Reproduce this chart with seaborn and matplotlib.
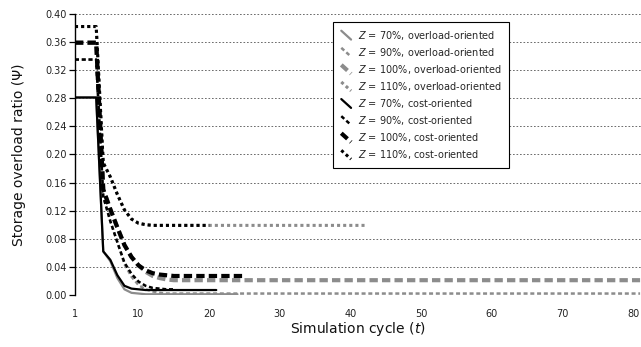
import matplotlib
matplotlib.use("Agg")
import matplotlib.pyplot as plt
from matplotlib.lines import Line2D
from matplotlib.legend_handler import HandlerLine2D
import numpy as np
import pandas as pd
import seaborn as sns

# ---- data -------------------------------------------------------------
# cost-oriented runs (black)
cyc_cost_70 = list(range(1, 22))
psi_cost_70 = [0.281, 0.281, 0.281, 0.281, 0.062, 0.050, 0.028, 0.013, 0.009,
               0.008, 0.007, 0.007, 0.007, 0.007, 0.007, 0.007, 0.007, 0.007,
               0.007, 0.007, 0.007]
cyc_cost_90 = list(range(1, 16))
psi_cost_90 = [0.335, 0.335, 0.335, 0.335, 0.140, 0.105, 0.075, 0.046, 0.030,
               0.019, 0.013, 0.010, 0.009, 0.008, 0.008]
cyc_cost_100 = list(range(1, 26))
psi_cost_100 = [0.359, 0.359, 0.359, 0.359, 0.150, 0.122, 0.096, 0.071, 0.054,
                0.042, 0.035, 0.031, 0.029, 0.028, 0.027, 0.027, 0.027, 0.027,
                0.027, 0.027, 0.027, 0.027, 0.027, 0.027, 0.027]
cyc_cost_110 = list(range(1, 21))
psi_cost_110 = [0.382, 0.382, 0.382, 0.382, 0.188, 0.168, 0.143, 0.121, 0.108,
                0.102, 0.100, 0.099, 0.099, 0.099, 0.099, 0.099, 0.099, 0.099,
                0.099, 0.099]

# overload-oriented runs (grey)
cyc_over_70 = list(range(1, 25))
psi_over_70 = [0.281, 0.281, 0.281, 0.281, 0.062, 0.048, 0.024, 0.008, 0.003,
               0.002, 0.001, 0.001, 0.001, 0.001, 0.001, 0.001, 0.001, 0.001,
               0.001, 0.001, 0.001, 0.001, 0.001, 0.001]
cyc_over_90 = list(range(1, 82))
psi_over_90 = ([0.335, 0.335, 0.335, 0.335, 0.140, 0.105, 0.075, 0.044, 0.026,
                0.014, 0.008, 0.005, 0.003] + [0.002] * 68)
cyc_over_100 = list(range(1, 82))
psi_over_100 = ([0.359, 0.359, 0.359, 0.359, 0.150, 0.122, 0.096, 0.071, 0.054,
                 0.042, 0.033, 0.027, 0.024, 0.022] + [0.021] * 67)
cyc_over_110 = list(range(1, 43))
psi_over_110 = ([0.382, 0.382, 0.382, 0.382, 0.188, 0.168, 0.143, 0.121, 0.108,
                 0.102, 0.100] + [0.099] * 31)

labels_over = ["$Z$ = 70%, overload-oriented", "$Z$ = 90%, overload-oriented",
               "$Z$ = 100%, overload-oriented", "$Z$ = 110%, overload-oriented"]
labels_cost = ["$Z$ = 70%, cost-oriented", "$Z$ = 90%, cost-oriented",
               "$Z$ = 100%, cost-oriented", "$Z$ = 110%, cost-oriented"]

y_ticks = [0.00, 0.04, 0.08, 0.12, 0.16, 0.20, 0.24, 0.28, 0.32, 0.36, 0.40]
x_ticks = [1, 10, 20, 30, 40, 50, 60, 70, 80]

# ---- styling ----------------------------------------------------------
sns.set_theme(style="white")
plt.rcParams["font.family"] = ["DejaVu Sans"]
plt.rcParams["mathtext.fontset"] = "dejavusans"

GREY = "#8c8c8c"
BLACK = "#000000"

# (linewidth, linestyle, capstyle) for each Z level
line_styles = [
    (1.6, "-", "butt"),
    (1.8, (0, (1.6, 1.1)), "butt"),
    (3.0, (0, (2.0, 1.0)), "butt"),
    (2.2, (0, (1.0, 1.0)), "butt"),
]

fig = plt.figure(figsize=(6.41, 3.47), dpi=100)
ax = fig.add_axes([0.117, 0.150, 0.883, 0.810])

over_series = [(cyc_over_70, psi_over_70), (cyc_over_90, psi_over_90),
               (cyc_over_100, psi_over_100), (cyc_over_110, psi_over_110)]
cost_series = [(cyc_cost_70, psi_cost_70), (cyc_cost_90, psi_cost_90),
               (cyc_cost_100, psi_cost_100), (cyc_cost_110, psi_cost_110)]

handles = []
for (xs, ys), (lw, ls, cap), lab in zip(over_series, line_styles, labels_over):
    df = pd.DataFrame({"cycle": xs, "psi": ys})
    sns.lineplot(data=df, x="cycle", y="psi", ax=ax, color=GREY, linewidth=lw,
                 linestyle=ls, dash_capstyle=cap, estimator=None, sort=False,
                 zorder=3)
    handles.append(Line2D([], [], color=GREY, linewidth=lw, linestyle=ls,
                          dash_capstyle=cap, label=lab))

for (xs, ys), (lw, ls, cap), lab in zip(cost_series, line_styles, labels_cost):
    df = pd.DataFrame({"cycle": xs, "psi": ys})
    sns.lineplot(data=df, x="cycle", y="psi", ax=ax, color=BLACK, linewidth=lw,
                 linestyle=ls, dash_capstyle=cap, estimator=None, sort=False,
                 zorder=4)
    handles.append(Line2D([], [], color=BLACK, linewidth=lw, linestyle=ls,
                          dash_capstyle=cap, label=lab))

# axes
ax.set_xlim(1, 81.13)
ax.set_ylim(0, 0.40)
ax.set_yticks(y_ticks)
ax.set_yticklabels([f"{v:.2f}" for v in y_ticks])
ax.set_xticks(x_ticks)
ax.set_xticklabels([str(v) for v in x_ticks])
ax.tick_params(axis="y", left=True, length=4, width=0.9, color="black",
               labelsize=7, pad=2, labelcolor="#222222")
ax.tick_params(axis="x", bottom=False, length=0, labelsize=7, pad=10,
               labelcolor="#222222")

for side in ["top", "right", "bottom"]:
    ax.spines[side].set_visible(False)
ax.spines["left"].set_color("black")
ax.spines["left"].set_linewidth(1.0)
ax.spines["left"].set_zorder(5)

ax.yaxis.grid(True, color="#555555", linestyle=(0, (2.0, 2.2)), linewidth=0.6)
ax.xaxis.grid(False)
ax.set_axisbelow(True)

ax.set_xlabel("Simulation cycle ($t$)", fontsize=10, labelpad=1,
              color="#111111")
ax.set_ylabel("Storage overload ratio (Ψ)", fontsize=10, labelpad=14,
              color="#111111")


class DiagonalHandler(HandlerLine2D):
    """Legend key drawn as a short diagonal stroke."""

    def create_artists(self, legend, orig_handle, xdescent, ydescent,
                       width, height, fontsize, trans):
        x0, x1 = -xdescent + 1, -xdescent + width * 0.85
        y0, y1 = -ydescent + height * 1.15, -ydescent - height * 0.15
        line = Line2D([x0, x1], [y0, y1])
        self.update_prop(line, orig_handle, legend)
        line.set_transform(trans)
        return [line]


leg = ax.legend(handles=handles, loc="upper left",
                bbox_to_anchor=(0.456, 0.972), borderaxespad=0,
                fontsize=7, frameon=True, fancybox=False,
                handler_map={Line2D: DiagonalHandler()},
                handlelength=1.35, handletextpad=0.55, labelspacing=0.42,
                borderpad=0.7)
leg.get_frame().set_edgecolor("black")
leg.get_frame().set_linewidth(0.8)
leg.get_frame().set_facecolor("white")
leg.get_frame().set_alpha(1)
leg.set_zorder(10)

fig.savefig("out.png", dpi=100)
